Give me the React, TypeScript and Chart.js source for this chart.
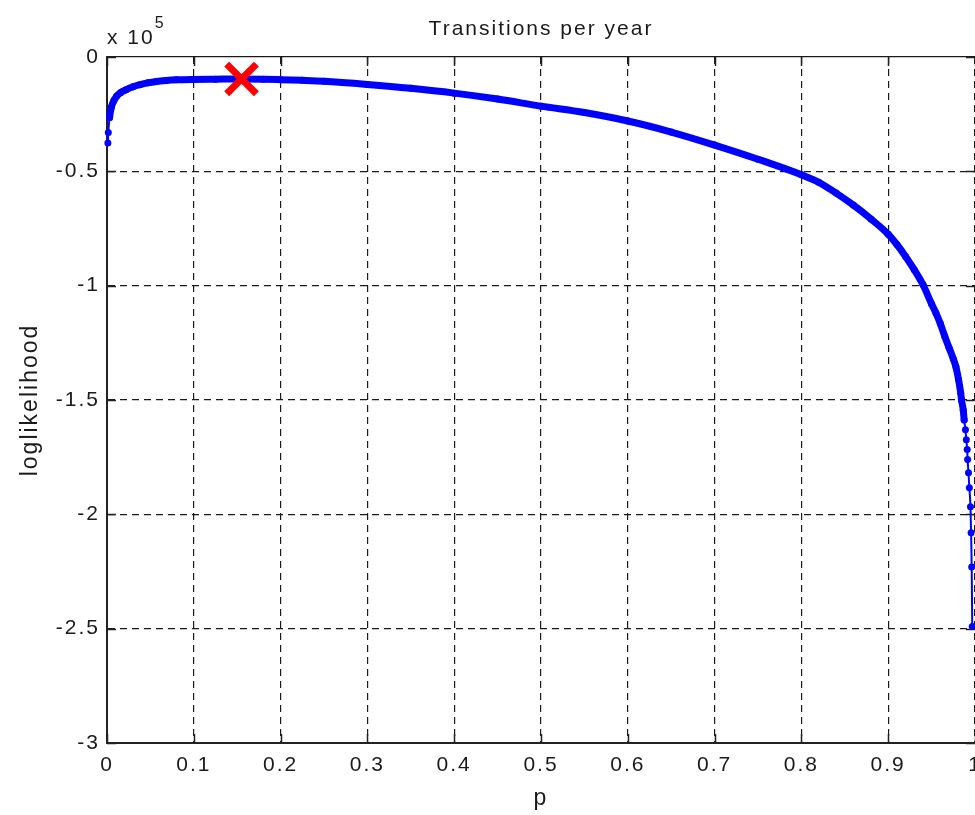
import React, { useEffect, useRef } from "react";
import { Chart, registerables } from "chart.js";

Chart.register(...registerables);

// ---- data (log-likelihood in units of 1e5) ----
const P_VALUES = [
  0.001, 0.0015, 0.003, 0.005, 0.008, 0.011, 0.016, 0.022, 0.03, 0.038, 0.047, 0.057, 0.068, 0.08,
  0.1, 0.125, 0.155, 0.18, 0.2, 0.225, 0.25, 0.3, 0.35, 0.4, 0.45, 0.5, 0.55, 0.6, 0.65, 0.7,
  0.75, 0.8, 0.82, 0.84, 0.86, 0.88, 0.9, 0.91, 0.92, 0.93, 0.94, 0.95, 0.955, 0.96, 0.965,
  0.97, 0.975, 0.978, 0.981, 0.9835, 0.9845, 0.9865, 0.9875, 0.989, 0.99, 0.991, 0.9915,
  0.9925, 0.9935, 0.9948, 0.9955, 0.9962, 0.9968,
];
const LOGLIK = [
  -0.376, -0.33, -0.265, -0.22, -0.19, -0.172, -0.155, -0.143, -0.13, -0.121, -0.113, -0.107, -0.103, -0.1,
  -0.098, -0.097, -0.096, -0.097, -0.099, -0.102, -0.106, -0.12, -0.137, -0.158, -0.184, -0.215, -0.243, -0.28, -0.328, -0.385,
  -0.447, -0.515, -0.548, -0.595, -0.648, -0.708, -0.775, -0.82, -0.872, -0.93, -0.995, -1.08, -1.12, -1.165, -1.22,
  -1.27, -1.32, -1.355, -1.41, -1.468, -1.5, -1.545, -1.587, -1.63, -1.674, -1.717, -1.76,
  -1.818, -1.884, -1.967, -2.081, -2.23, -2.49,
];
const MAX_P = [0.155];
const MAX_LOGLIK = [-0.096];

const X_TICKS = [0, 0.1, 0.2, 0.3, 0.4, 0.5, 0.6, 0.7, 0.8, 0.9, 1];
const Y_TICKS = [-3, -2.5, -2, -1.5, -1, -0.5, 0];

const TITLE = "Transitions per year";
const X_LABEL = "p";
const Y_LABEL = "loglikelihood";
const EXP_BASE = "x 10";
const EXP_POWER = "5";

const FONT_FAMILY = "'Liberation Sans', Arial, sans-serif";
const TEXT_COLOR = "#1a1a1a";
const LINE_COLOR = "#222222";

const matlabDecor = {
  id: "matlabDecor",
  beforeUpdate(chart: any) {
    chart.ctx.letterSpacing = "2px";
  },
  beforeDraw(chart: any) {
    chart.ctx.letterSpacing = "2px";
  },
  beforeDatasetsDraw(chart: any) {
    const { ctx, chartArea, scales } = chart;
    const len = 9;
    ctx.save();
    ctx.strokeStyle = LINE_COLOR;
    ctx.lineWidth = 1.5;
    ctx.setLineDash([]);
    ctx.beginPath();
    for (const t of X_TICKS) {
      const x = Math.round(scales.x.getPixelForValue(t)) + 0.5;
      ctx.moveTo(x, chartArea.bottom);
      ctx.lineTo(x, chartArea.bottom - len);
      ctx.moveTo(x, chartArea.top);
      ctx.lineTo(x, chartArea.top + len);
    }
    for (const t of Y_TICKS) {
      const y = Math.round(scales.y.getPixelForValue(t)) + 0.5;
      ctx.moveTo(chartArea.left, y);
      ctx.lineTo(chartArea.left + len, y);
      ctx.moveTo(chartArea.right, y);
      ctx.lineTo(chartArea.right - len, y);
    }
    ctx.stroke();
    ctx.restore();
  },
  afterDraw(chart: any) {
    const { ctx, chartArea } = chart;
    ctx.save();
    ctx.letterSpacing = "2px";
    ctx.fillStyle = TEXT_COLOR;
    ctx.textAlign = "left";
    ctx.textBaseline = "alphabetic";
    ctx.font = `21px ${FONT_FAMILY}`;
    const x0 = chartArea.left;
    ctx.fillText(EXP_BASE, x0, 44);
    const w = ctx.measureText(EXP_BASE).width;
    ctx.font = `16px ${FONT_FAMILY}`;
    ctx.fillText(EXP_POWER, x0 + w, 28);
    ctx.restore();
  },
};

const CANVAS_W = 975;
const CANVAS_H = 815;

export default function App() {
  const canvasRef = useRef<HTMLCanvasElement | null>(null);

  useEffect(() => {
    const canvas = canvasRef.current;
    if (!canvas) return;
    const font = { family: FONT_FAMILY, size: 21, weight: "normal" as const };
    const labelFont = { family: FONT_FAMILY, size: 23, weight: "normal" as const };
    const curve = P_VALUES.map((x, i) => ({ x, y: LOGLIK[i] }));
    const maxPt = MAX_P.map((x, i) => ({ x, y: MAX_LOGLIK[i] }));

    const chart = new Chart(canvas, {
      type: "scatter",
      data: {
        datasets: [
          {
            label: "max",
            data: maxPt,
            showLine: false,
            pointStyle: "crossRot",
            pointRadius: 21,
            pointBorderWidth: 7,
            pointBorderColor: "#ff0000",
            pointBackgroundColor: "#ff0000",
            order: 0,
          },
          {
            label: "loglik",
            data: curve,
            showLine: true,
            borderColor: "#0000ff",
            backgroundColor: "#0000ff",
            borderWidth: 7,
            borderCapStyle: "round",
            borderJoinStyle: "round",
            pointRadius: 3.5,
            pointBorderWidth: 0,
            pointBackgroundColor: "#0000ff",
            cubicInterpolationMode: "monotone",
            clip: 10,
            segment: {
              borderWidth: (ctx: any) =>
                ctx.p0.parsed.x < 0.002 || ctx.p0.parsed.x >= 0.9875 ? 2 : 7,
            },
            order: 1,
          } as any,
        ],
      },
      options: {
        responsive: false,
        animation: false,
        layout: { autoPadding: false, padding: { left: 0, right: -1, top: 0, bottom: 0 } },
        plugins: {
          legend: { display: false },
          tooltip: { enabled: false },
          title: {
            display: true,
            text: TITLE,
            color: TEXT_COLOR,
            font,
            fullSize: false,
            padding: { top: 17, bottom: 14.8 },
          },
        },
        scales: {
          x: {
            type: "linear",
            position: "bottom",
            min: 0,
            max: 1,
            afterBuildTicks: (s: any) => {
              s.ticks = X_TICKS.map((v) => ({ value: v }));
            },
            afterFit: (s: any) => {
              s.height = 72;
              s.paddingLeft = 0;
              s.paddingRight = 0;
            },
            grid: { color: "#1a1a1a", lineWidth: 1.2, drawTicks: false },
            border: { display: true, color: LINE_COLOR, width: 2, dash: [7, 5] },
            ticks: {
              font,
              color: TEXT_COLOR,
              padding: 10,
              maxRotation: 0,
              autoSkip: false,
              callback: (v: any) => String(v),
            },
            title: {
              display: true,
              text: X_LABEL,
              color: TEXT_COLOR,
              font: labelFont,
              padding: { top: 0, bottom: 3 },
            },
          },
          y: {
            type: "linear",
            position: "left",
            min: -3,
            max: 0,
            afterBuildTicks: (s: any) => {
              s.ticks = Y_TICKS.map((v) => ({ value: v }));
            },
            afterFit: (s: any) => {
              s.width = 107;
            },
            grid: { color: "#1a1a1a", lineWidth: 1.2, drawTicks: false },
            border: {
              display: true,
              color: LINE_COLOR,
              width: 2,
              dash: (ctx: any) => (ctx.tick && ctx.tick.value === 0 ? [] : [7, 5]),
            } as any,
            ticks: {
              font,
              color: TEXT_COLOR,
              padding: 7,
              autoSkip: false,
              callback: (v: any) => String(v),
            },
            title: {
              display: true,
              text: Y_LABEL,
              color: TEXT_COLOR,
              font: labelFont,
              padding: { top: 17, bottom: 0 },
            },
          },
        },
      },
      plugins: [matlabDecor],
    });

    return () => chart.destroy();
  }, []);

  return (
    <div
      style={{
        position: "absolute",
        left: 0,
        top: 0,
        width: CANVAS_W,
        height: CANVAS_H,
        overflow: "hidden",
        background: "#ffffff",
      }}
    >
      <canvas
        ref={canvasRef}
        width={CANVAS_W}
        height={CANVAS_H}
        style={{ display: "block", width: CANVAS_W, height: CANVAS_H }}
      />
    </div>
  );
}
